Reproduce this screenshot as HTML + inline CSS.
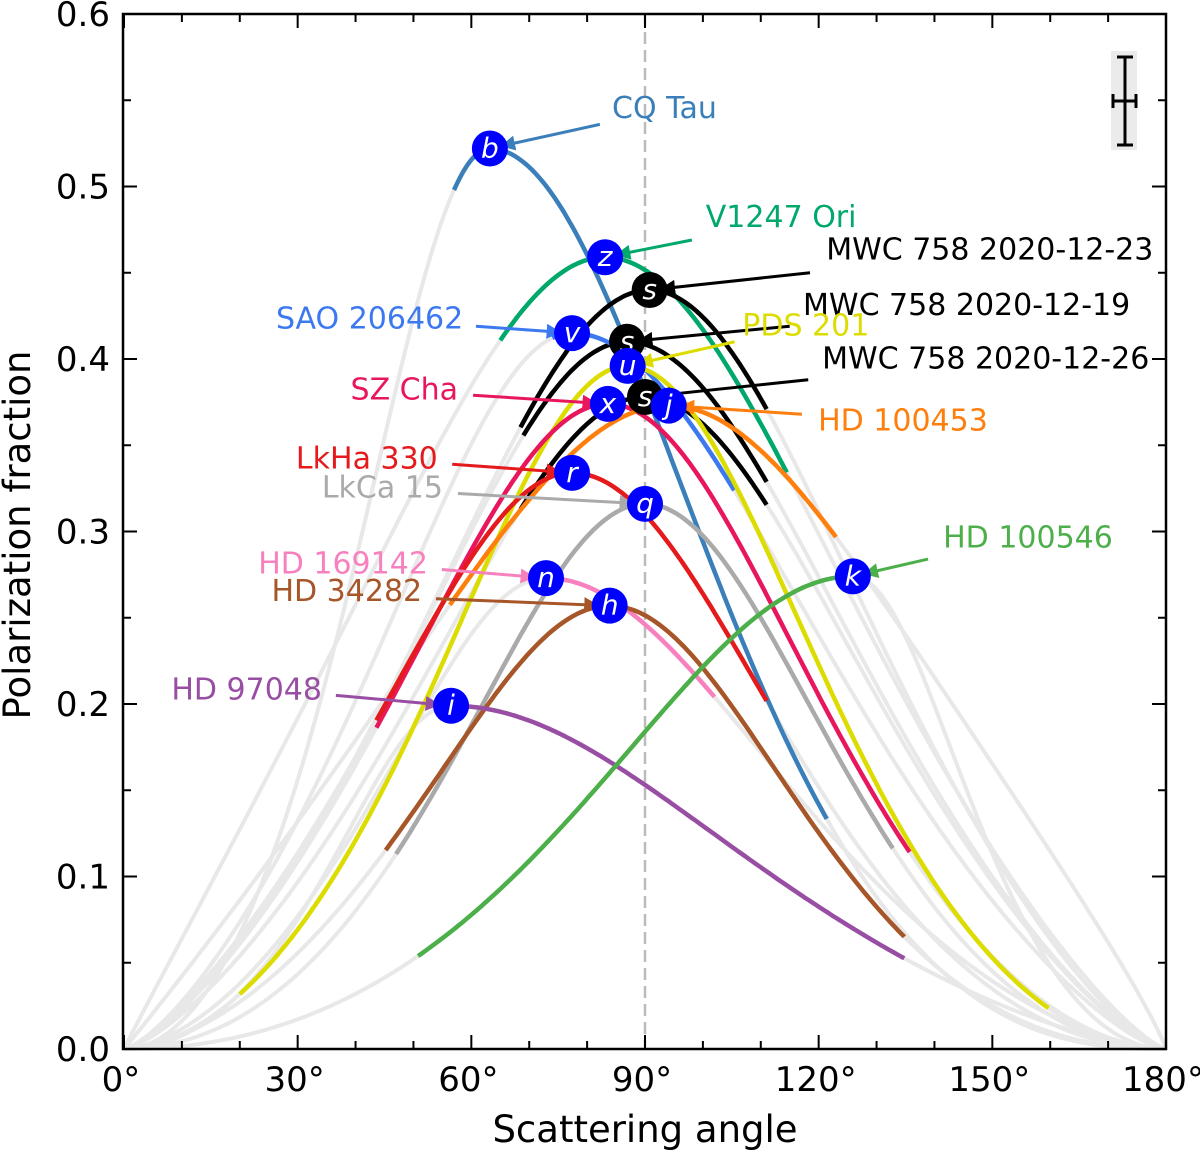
<!DOCTYPE html>
<html><head><meta charset="utf-8"><style>
html,body{margin:0;padding:0;background:#fff;}
svg{display:block;font-family:"DejaVu Sans","Liberation Sans",sans-serif;}
</style></head><body>
<svg id="chart" width="1200" height="1152" viewBox="0 0 1200 1152" xmlns="http://www.w3.org/2000/svg">
<g id="grey"></g>
<line x1="645" y1="14" x2="645" y2="1049" stroke="#bbb" stroke-width="2.5" stroke-dasharray="12,6"/>
<g id="series"></g>
<g id="annot"></g>
<g id="marks"></g>
<g>
<rect x="1111" y="51" width="26" height="99" fill="#ebebeb"/>
<line x1="1125" y1="57" x2="1125" y2="145" stroke="#000" stroke-width="3"/>
<line x1="1117" y1="57" x2="1133" y2="57" stroke="#000" stroke-width="3"/>
<line x1="1117" y1="145" x2="1133" y2="145" stroke="#000" stroke-width="3"/>
<line x1="1113" y1="101" x2="1136" y2="101" stroke="#000" stroke-width="3"/>
<line x1="1113" y1="94" x2="1113" y2="108" stroke="#000" stroke-width="3"/>
<line x1="1136" y1="94" x2="1136" y2="108" stroke="#000" stroke-width="3"/>
</g>
<rect x="123" y="14" width="1043" height="1035" fill="none" stroke="#000" stroke-width="2.5"/>
<g id="axes"></g>
<text x="645" y="1142" font-size="37" text-anchor="middle">Scattering angle</text>
<text transform="translate(30,535) rotate(-90)" font-size="37" text-anchor="middle">Polarization fraction</text>
</svg>
<script>
const names=["CQ Tau","V1247 Ori","MWC 758 2020-12-23","MWC 758 2020-12-19","MWC 758 2020-12-26","SAO 206462","PDS 201","SZ Cha","HD 100453","LkHa 330","LkCa 15","HD 169142","HD 34282","HD 97048","HD 100546"];
const letters=["b","z","s","s","s","v","u","x","j","r","q","n","h","i","k"];
const peakAngle=[63.2,83.1,90.8,86.9,90.0,77.4,87.0,83.6,94.1,77.4,90.0,72.9,83.9,56.5,125.9];
const peakValue=[0.522,0.459,0.44,0.41,0.378,0.415,0.396,0.374,0.373,0.334,0.316,0.273,0.257,0.199,0.274];
const widthLeft=[1.0,0.49,0.7,0.7,0.7,0.7,0.93,0.69,0.51,0.66,1.02,0.84,0.85,1.0,1.05];
const widthRight=[1.25,0.655,0.7,0.7,0.7,0.71,1.0,0.93,0.44,1.02,1.0,0.84,1.12,0.76,1.0];
const rangeStart=[57,65,68.5,69,68.5,74,20,43.6,56.3,43.6,47,72.9,45.2,56,50.8];
const rangeEnd=[121.4,114.5,111,111,111,105.4,159.7,135.7,123,111,132.8,102,134.8,134.8,125.9];
const colors=["#3a7fb9","#00a86b","#000000","#000000","#000000","#3c78f0","#dcdc00","#e8175d","#ff7f0e","#e41a1c","#aaaaaa","#f781bf","#a65628","#984ea3","#4daf4a"];
const labelAngle=[84.3,100.5,121.3,117.3,120.6,58.6,106.8,57.7,119.9,54.2,55.1,52.5,51.5,34.2,141.5];
const labelValue=[0.546,0.483,0.464,0.432,0.401,0.424,0.420,0.383,0.365,0.343,0.326,0.282,0.266,0.209,0.297];
const labelAnchor=["start","start","start","start","start","end","start","end","start","end","end","end","end","end","start"];
const arrowFromAngle=[82.2,98.1,118.5,115.0,118.2,60.8,105.5,60.3,117.1,56.7,57.7,54.9,53.9,36.6,138.9];
const arrowFromValue=[0.536,0.469,0.450,0.419,0.388,0.419,0.41,0.379,0.368,0.339,0.322,0.278,0.261,0.205,0.284];
const xTicks=[0,30,60,90,120,150,180];
const yTicks=[0,0.1,0.2,0.3,0.4,0.5,0.6];
const yTickLabels=["0.0","0.1","0.2","0.3","0.4","0.5","0.6"];

const X=a=>124+a*(1042/180);
const Y=v=>1049-v*1725;
const NS="http://www.w3.org/2000/svg";
function mk(t,at,parent){const e=document.createElementNS(NS,t);for(const k in at)e.setAttribute(k,at[k]);parent.appendChild(e);return e;}
function model(i,a){const p=peakAngle[i];const left=a<=p;let t=left?a*90/p:90+(a-p)*90/(180-p);t=t*Math.PI/180;const s=Math.sin(t)**2,c=Math.cos(t)**2;const f=s/(1+c);return peakValue[i]*Math.pow(Math.max(f,0),left?widthLeft[i]:widthRight[i]);}
function path(i,a0,a1){let d="";for(let a=a0;a<=a1+1e-9;a+=0.5){const aa=Math.min(a,a1);d+=(d?"L":"M")+X(aa).toFixed(1)+","+Y(model(i,aa)).toFixed(1);}d+="L"+X(a1).toFixed(1)+","+Y(model(i,a1)).toFixed(1);return d;}
const grey=document.getElementById("grey"),ser=document.getElementById("series"),ann=document.getElementById("annot"),marks=document.getElementById("marks"),axes=document.getElementById("axes");
const defs=mk("defs",{},document.getElementById("chart"));
names.forEach((n,i)=>{
 const g=mk("path",{d:path(i,0,180),fill:"none",stroke:"#e8e8e8","stroke-width":4},grey);
 
 
});
names.forEach((n,i)=>{
 const p=mk("path",{d:path(i,rangeStart[i],rangeEnd[i]),fill:"none",stroke:colors[i],"stroke-width":4.5},ser);
 
 
});
names.forEach((n,i)=>{
 const m=mk("marker",{id:"ah"+i,viewBox:"0 0 10 10",refX:"9",refY:"5",markerWidth:"5",markerHeight:"5",orient:"auto"},defs);
 mk("path",{d:"M0,0L10,5L0,10z",fill:colors[i]},m);
 const x1=X(arrowFromAngle[i]),y1=Y(arrowFromValue[i]),cx=X(peakAngle[i]),cy=Y(peakValue[i]);
 const dx=cx-x1,dy=cy-y1,L=Math.hypot(dx,dy);
 const ln=mk("line",{x1:x1,y1:y1,x2:cx-dx/L*12,y2:cy-dy/L*12,stroke:colors[i],"stroke-width":3,"marker-end":"url(#ah"+i+")"},ann);
 
 
 const t=mk("text",{x:X(labelAngle[i]),y:Y(labelValue[i])+11,"font-size":30,"text-anchor":labelAnchor[i],fill:colors[i]},ann);
 
 
 t.textContent=n;
});
names.forEach((n,i)=>{
 const g=mk("g",{},marks);
 
 
 mk("circle",{cx:X(peakAngle[i]),cy:Y(peakValue[i]),r:18,fill:letters[i]==="s"?"#000":"#0000ff"},g);
 const t=mk("text",{x:X(peakAngle[i]),y:Y(peakValue[i])+9,"font-size":28,"font-style":"italic",fill:"#fff","text-anchor":"middle"},g);
 t.textContent=letters[i];
});
for(let a=0;a<=180;a+=10){const maj=a%30===0;
 for(const [y,s] of [[1049,-1],[14,1]]){const l=mk("line",{x1:X(a),x2:X(a),y1:y,y2:y+s*(maj?14:8),stroke:"#000","stroke-width":2},axes);
 
 }}
for(let k=0;k<=12;k++){const v=k*0.05,maj=k%2===0;
 for(const [x,s] of [[123,1],[1166,-1]]){const l=mk("line",{x1:x,x2:x+s*(maj?14:8),y1:Y(v),y2:Y(v),stroke:"#000","stroke-width":2},axes);
 
 }}
xTicks.forEach(a=>{const t=mk("text",{x:X(a)-3,y:1091,"font-size":34,"text-anchor":"middle"},axes);
 
 
 t.textContent=a+"°";});
yTicks.forEach((v,k)=>{const t=mk("text",{x:110,y:Y(v)+12,"font-size":34,"text-anchor":"end"},axes);
 
 
 t.textContent=yTickLabels[k];});
</script>
</body></html>
